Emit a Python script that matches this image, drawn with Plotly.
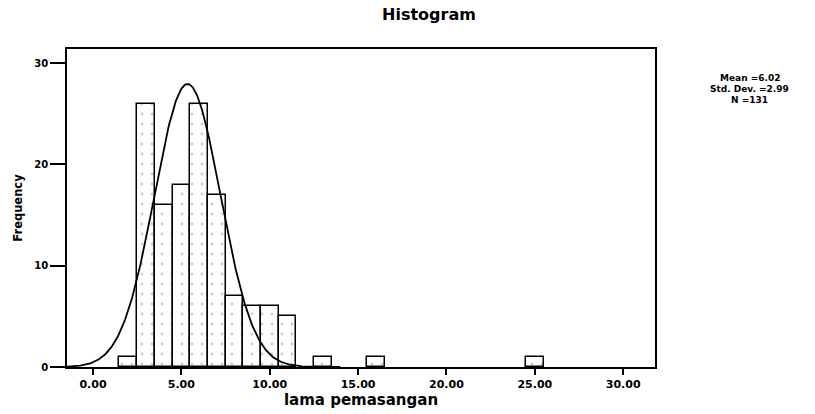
import numpy as np
import plotly.graph_objects as go

# Data
bin_centers = [2, 3, 4, 5, 6, 7, 8, 9, 10, 11, 13, 16, 25]
frequencies = [1, 26, 16, 18, 26, 17, 7, 6, 6, 5, 1, 1, 1]
bin_width = 1.0

x_tick_vals = [0, 5, 10, 15, 20, 25, 30]
x_tick_text = ["0.00", "5.00", "10.00", "15.00", "20.00", "25.00", "30.00"]
y_tick_vals = [0, 10, 20, 30]

stats_lines = ["Mean =6.02", "Std. Dev. =2.99", "N =131"]

# Normal curve as drawn in the picture
curve_mean = 5.35
curve_sd = 1.87
curve_n = 131

xs = np.linspace(-1.5, 14.0, 300)
ys = curve_n * bin_width / (curve_sd * np.sqrt(2 * np.pi)) * np.exp(-0.5 * ((xs - curve_mean) / curve_sd) ** 2)

FONT = "DejaVu Sans, Verdana, sans-serif"

W, H = 815, 414
L, R, T, B = 67, 655, 49, 367

fig = go.Figure()
fig.add_trace(go.Bar(
    x=bin_centers, y=frequencies, width=bin_width,
    marker=dict(color="white", line=dict(color="black", width=1.5),
                pattern=dict(shape=".", fgcolor="#9a9a9a", size=10, solidity=0.06)),
    showlegend=False, hoverinfo="x+y",
))
fig.add_trace(go.Scatter(
    x=xs, y=ys, mode="lines", line=dict(color="black", width=1.8),
    showlegend=False, hoverinfo="skip",
))

fig.update_layout(
    width=W, height=H,
    margin=dict(l=L, r=W - R, t=T, b=H - B, autoexpand=False),
    paper_bgcolor="white", plot_bgcolor="white",
    title=dict(text="<b>Histogram</b>", x=429 / W, xanchor="center", y=1 - 14 / H, yanchor="middle",
               font=dict(family=FONT, size=16, color="black")),
    bargap=0,
    font=dict(family=FONT, color="black"),
)
fig.update_xaxes(
    range=[-1.47, 31.8], tickvals=x_tick_vals, ticktext=["<b>%s</b>" % t for t in x_tick_text],
    ticks="outside", ticklen=6, tickcolor="black", tickwidth=1.5,
    showline=True, linecolor="black", linewidth=1.5, mirror=True,
    showgrid=False, zeroline=False,
    tickfont=dict(family=FONT, size=11, color="black"),
    title=dict(text="<b>lama pemasangan</b>", font=dict(family=FONT, size=15, color="black"), standoff=5),
)
fig.update_yaxes(
    range=[0, 31.4], tickvals=y_tick_vals, ticktext=["<b>%d</b>" % v for v in y_tick_vals],
    ticks="outside", ticklen=15, tickcolor="black", tickwidth=1.5,
    showline=True, linecolor="black", linewidth=1.5, mirror=True,
    showgrid=False, zeroline=False,
    tickfont=dict(family=FONT, size=10, color="black"),
    title=dict(text="<b>Frequency</b>", font=dict(family=FONT, size=11.5, color="black"), standoff=9),
)
for i, line in enumerate(stats_lines):
    fig.add_annotation(
        text="<b>" + line + "</b>", xref="paper", yref="paper",
        x=(750 - L) / (R - L), y=(B - (78 + 11 * i)) / (B - T), xanchor="center", yanchor="middle",
        showarrow=False, align="center", font=dict(family=FONT, size=9, color="black"),
    )

fig.write_html("out.html", post_script="document.body.style.margin='0px';",
               config={"displayModeBar": False})
